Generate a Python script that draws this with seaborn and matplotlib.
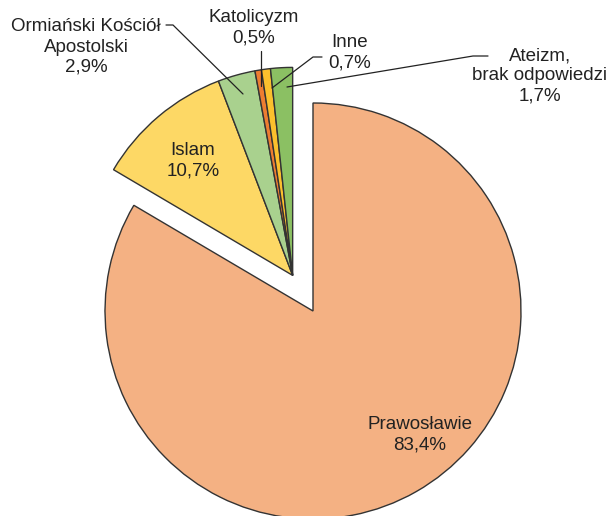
import numpy as np
import matplotlib
matplotlib.use("Agg")
import matplotlib.pyplot as plt
import seaborn as sns

# religie - udzial procentowy
labels = ["Prawosławie", "Islam", "Ormiański Kościół\nApostolski", "Katolicyzm", "Inne",
          "Ateizm,\nbrak odpowiedzi"]
values = [83.4, 10.7, 2.9, 0.5, 0.7, 1.7]
pct_text = ["83,4%", "10,7%", "2,9%", "0,5%", "0,7%", "1,7%"]
colors = ["#F4B183", "#FDD865", "#A9D18E", "#ED7D31", "#FBC02D", "#8BC063"]

sns.set_theme(style="white")
plt.rcParams["font.family"] = ["Liberation Sans", "DejaVu Sans"]

W, H = 607, 516
fig = plt.figure(figsize=(W / 100, H / 100), dpi=100)
ax = fig.add_axes([0, 0, 1, 1])

def py(y):
    # piksel od gory -> wspolrzedna osi
    return H - y

cx, cy, R = 313, py(311), 208
wedges, _ = ax.pie(values, colors=colors, startangle=90, counterclock=False,
                   radius=R, center=(cx, cy),
                   wedgeprops=dict(edgecolor="#333333", linewidth=1.0))

# male kawalki wysuniete razem jako jedna grupa
frac_p = values[0] / sum(values)
ang = np.deg2rad(90 - 360 * frac_p - (360 * (1 - frac_p)) / 2)
dist = 41
for w in wedges[1:]:
    w.set_center((cx + dist * np.cos(ang), cy + dist * np.sin(ang)))

ax.set_xlim(0, W)
ax.set_ylim(0, H)
ax.set_aspect("equal")
ax.axis("off")

fs = 13.5
kw = dict(fontsize=fs, ha="center", va="center", color="#222222", linespacing=1.25)

ax.text(420, py(435), labels[0] + "\n" + pct_text[0], **kw)
ax.text(193, py(161), labels[1] + "\n" + pct_text[1], **kw)
ax.text(86, py(47), labels[2] + "\n" + pct_text[2], **kw)
ax.text(254, py(28), labels[3] + "\n" + pct_text[3], **kw)
ax.text(350, py(53), labels[4] + "\n" + pct_text[4], **kw)
ax.text(540, py(76), labels[5] + "\n" + pct_text[5], **kw)

lk = dict(color="#222222", linewidth=0.9)
ax.plot([166, 173, 243], [py(25), py(25), py(94)], **lk)
ax.plot([261, 261], [py(51), py(86)], **lk)
ax.plot([322, 313, 272], [py(57), py(57), py(88)], **lk)
ax.plot([488, 473, 287], [py(56), py(56), py(87)], **lk)

fig.savefig("out.png", dpi=100)
